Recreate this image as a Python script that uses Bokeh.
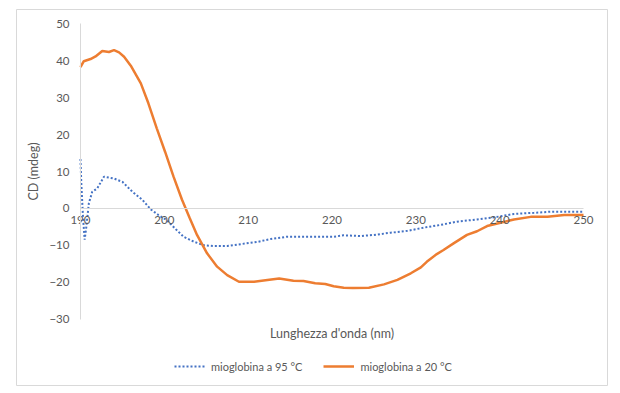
from bokeh.plotting import figure
from bokeh.models import Range1d, LinearAxis, FixedTicker, Legend, LegendItem
from bokeh.embed import file_html
from bokeh.resources import INLINE

# ---- data ----
x_tick_labels = [190, 200, 210, 220, 230, 240, 250]
y_tick_labels = [-30, -20, -10, 0, 10, 20, 30, 40, 50]

series_95_name = "mioglobina a 95 °C"
x95 = [190.0, 190.1, 190.3, 190.5, 190.7, 191.0, 191.4, 192.0, 192.8, 194.0, 195.0,
       196.2, 197.4, 198.4, 199.3, 200.3, 201.3, 202.3, 203.5, 204.7, 205.9, 207.5,
       209.1, 211.1, 212.7, 214.6, 217.0, 220.2, 221.4, 223.4, 225.0, 227.0, 229.0,
       231.0, 232.9, 234.9, 237.3, 239.7, 241.7, 244.1, 246.1, 250.0]
y95 = [13.4, 6.8, -2.3, -8.5, -5.0, 1.4, 4.5, 5.4, 8.6, 8.1, 7.2,
       4.5, 2.3, -0.3, -1.8, -3.2, -5.5, -7.7, -9.0, -10.0, -10.2, -10.2,
       -9.7, -9.1, -8.3, -7.7, -7.7, -7.7, -7.3, -7.5, -7.2, -6.6, -6.1,
       -5.2, -4.5, -3.6, -3.0, -2.3, -1.5, -1.2, -0.9, -0.9]

series_20_name = "mioglobina a 20 °C"
x20 = [190.0, 190.4, 191.2, 191.8, 192.6, 193.4, 194.0, 194.6, 195.2, 196.0, 197.2,
       198.1, 199.1, 200.1, 201.1, 202.1, 203.0, 203.9, 205.1, 206.3, 207.5, 208.9,
       210.7, 212.3, 213.7, 215.4, 216.6, 218.0, 219.2, 220.2, 221.4, 222.5, 224.4,
       226.2, 227.8, 229.4, 230.6, 231.3, 232.5, 233.3, 234.5, 236.1, 237.3, 238.5,
       240.1, 241.7, 243.7, 245.7, 247.7, 250.0]
y20 = [38.3, 39.9, 40.5, 41.2, 42.7, 42.4, 42.9, 42.3, 41.1, 38.7, 33.9,
       28.5, 21.7, 15.3, 8.6, 2.4, -2.5, -7.2, -12.2, -15.8, -18.1, -19.9,
       -19.9, -19.4, -19.0, -19.6, -19.7, -20.3, -20.5, -21.1, -21.5, -21.6, -21.5,
       -20.6, -19.4, -17.6, -16.0, -14.5, -12.4, -11.3, -9.5, -7.2, -6.2, -4.8,
       -3.9, -3.0, -2.3, -2.3, -1.8, -1.8]

x_title = "Lunghezza d'onda (nm)"
y_title = "CD (mdeg)"

FONT = "Lato"
TXT = "#595959"
AXC = "#d9d9d9"

X0, X1 = x_tick_labels[0], x_tick_labels[-1]
Y0, Y1 = y_tick_labels[0], y_tick_labels[-1]

# the frame is the whole chart area (its outline is the chart border);
# the plot area inside it is 190..250 x -30..50
p = figure(width=608, height=386, output_backend="svg", toolbar_location=None,
           x_range=Range1d(182.37, 252.86), y_range=Range1d(-48.03, 53.93),
           x_axis_location=None, y_axis_location=None,
           min_border_left=16, min_border_right=1, min_border_top=9,
           min_border_bottom=1)
p.grid.visible = False
p.outline_line_color = AXC
p.outline_line_width = 1
p.background_fill_color = "white"
p.border_fill_color = "white"


def style_axis(ax):
    ax.major_tick_line_color = None
    ax.minor_tick_line_color = None
    ax.major_tick_out = 0
    ax.major_tick_in = 0
    ax.major_label_text_font = FONT
    ax.major_label_text_font_size = "11.5px"
    ax.major_label_text_color = TXT
    ax.axis_label_text_font = FONT
    ax.axis_label_text_font_size = "12.5px"
    ax.axis_label_text_font_style = "normal"
    ax.axis_label_text_color = TXT


# y axis at x = 190
yax = LinearAxis(ticker=FixedTicker(ticks=y_tick_labels), axis_label=y_title,
                 fixed_location=X0, bounds=(Y0, Y1))
style_axis(yax)
yax.axis_line_color = AXC
yax.major_label_standoff = 11
yax.axis_label_standoff = 5
p.add_layout(yax, "left")

# x axis at y = 0
xax = LinearAxis(ticker=FixedTicker(ticks=x_tick_labels), fixed_location=0,
                 bounds=(X0, X1))
style_axis(xax)
xax.axis_line_color = AXC
xax.major_label_standoff = 8
p.add_layout(xax, "below")

# x title below the plot area
xt = LinearAxis(ticker=FixedTicker(ticks=[]), axis_label=x_title,
                fixed_location=Y0, bounds=(X0, X1))
style_axis(xt)
xt.axis_line_color = None
xt.major_label_standoff = 0
xt.axis_label_standoff = 6
p.add_layout(xt, "below")

r95 = p.line(x95, y95, line_color="#4472c4", line_width=2, line_dash="2 2")
r20 = p.line(x20, y20, line_color="#ed7d31", line_width=2.5)

legend = Legend(items=[LegendItem(label=series_95_name, renderers=[r95]),
                       LegendItem(label=series_20_name, renderers=[r20])],
                orientation="horizontal", location=(158, 12))
legend.border_line_color = None
legend.background_fill_alpha = 0
legend.padding = 0
legend.margin = 0
legend.spacing = 21
legend.glyph_width = 31
legend.glyph_height = 14
legend.label_height = 14
legend.label_standoff = 6
legend.label_text_font = FONT
legend.label_text_font_size = "11px"
legend.label_text_color = TXT
p.add_layout(legend)

open("out.html", "w").write(file_html(p, INLINE))
